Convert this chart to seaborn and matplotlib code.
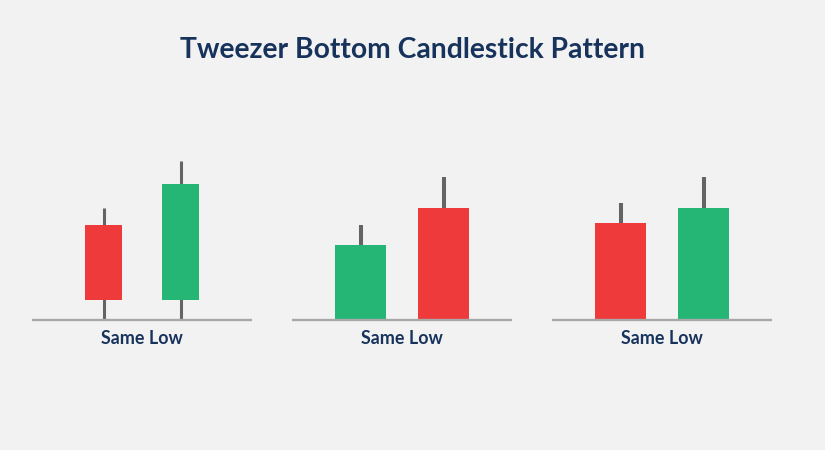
import pandas as pd
import matplotlib.pyplot as plt
import seaborn as sns

title = "Tweezer Bottom Candlestick Pattern"
panel_label = "Same Low"
candle = ["first", "second"]
wick_high = [[112, 159], [95, 143], [117, 143]]
body_top = [[95.5, 136], [75, 112], [97, 112]]
body_low = [[20.5, 20.5], [0, 0], [0, 0]]
direction = [["down", "up"], ["up", "down"], ["down", "up"]]

RED = "#ee3a3a"
GREEN = "#25b676"
NAVY = "#17335c"
BG = "#f2f2f2"
colors = {"down": RED, "up": GREEN}

sns.set_theme(style="white", rc={"figure.facecolor": BG, "axes.facecolor": "none"})
plt.rcParams["font.family"] = ["Lato", "DejaVu Sans"]

W, H = 825, 450
fig = plt.figure(figsize=(W / 100, H / 100), dpi=100)

# panel placement in pixels: left edge, first candle, candle spacing, bar width, wick width (pt)
layout = [(32, 103.5, 77, 37, 2.2), (292, 360.5, 83, 51, 2.9), (552, 620.5, 83, 51, 2.9)]

for i, (left, first, step, bar_w, wick_w) in enumerate(layout):
    ax = fig.add_axes([left / W, (H - 320) / H, 220 / W, 170 / H])
    df = pd.DataFrame({
        "candle": candle,
        "height": [t - b for t, b in zip(body_top[i], body_low[i])],
        "low": body_low[i],
        "high": wick_high[i],
        "direction": direction[i],
    })
    ax.vlines(range(len(candle)), 0, df["high"], color="#646464", lw=wick_w, zorder=1)
    sns.barplot(data=df, x="candle", y="height", hue="direction", palette=colors,
                bottom=df["low"].iloc[0], width=bar_w / step, dodge=False, legend=False,
                saturation=1, linewidth=0, edgecolor="none", zorder=2, ax=ax)
    ax.set_xlim((left - first) / step, (left + 220 - first) / step)
    ax.set_ylim(0, 170)
    ax.set_yticks([])
    ax.set_xticks([])
    ax.set_ylabel("")
    ax.set_xlabel(panel_label, fontsize=12.9, fontweight="bold", color=NAVY, labelpad=7)
    sns.despine(ax=ax, left=True)
    ax.spines["bottom"].set_color("#a8a8a8")
    ax.spines["bottom"].set_linewidth(1.7)
    ax.spines["bottom"].set_capstyle("butt")
    ax.spines["bottom"].set_zorder(3)

fig.text(0.5, 1 - 50 / H, title, ha="center", va="center",
         fontsize=20.3, fontweight="bold", color=NAVY)

fig.savefig("out.png", dpi=100, facecolor=BG)
